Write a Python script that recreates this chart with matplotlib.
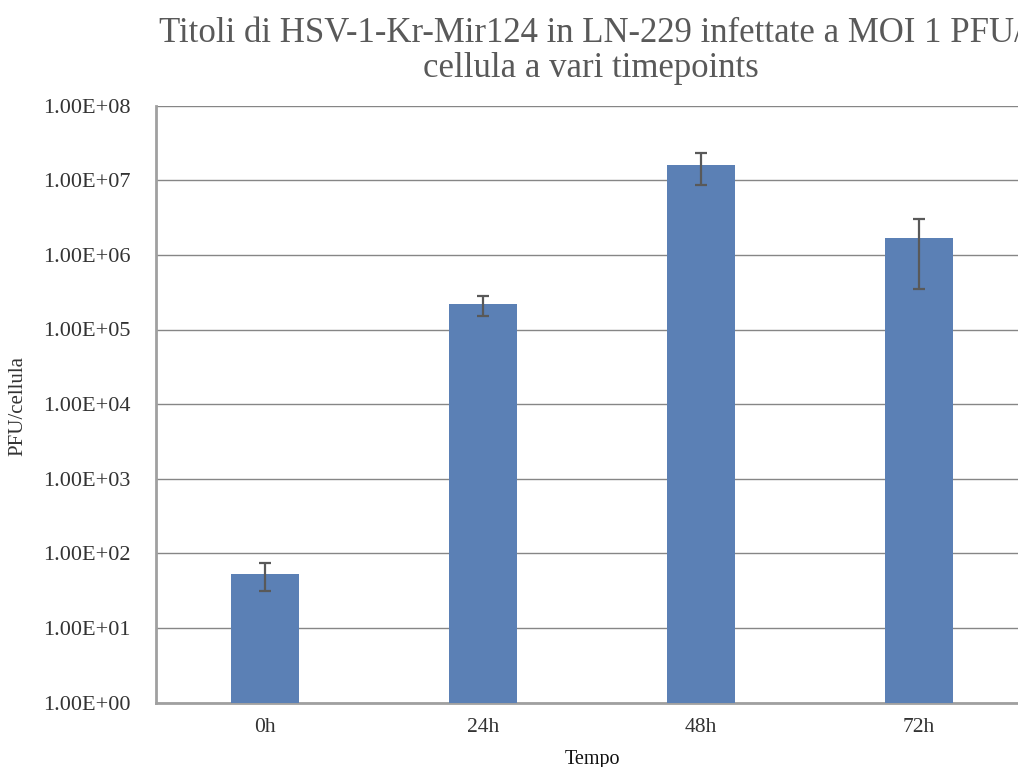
import numpy as np
import matplotlib
matplotlib.use("Agg")
import matplotlib.pyplot as plt
from matplotlib.ticker import FuncFormatter, NullLocator, FixedLocator

# dati
tempi = ["0h", "24h", "48h", "72h"]
titoli = [52, 2.17e5, 1.6e7, 1.67e6]
errori = [21, 6.4e4, 7.4e6, 1.32e6]

plt.rcParams['font.family'] = ['Liberation Serif', 'DejaVu Serif']

fig = plt.figure(figsize=(10.18, 7.67), dpi=100)
ax = fig.add_axes([156 / 1018, 64.5 / 767, 872 / 1018, 596.8 / 767])

x = np.arange(len(tempi))
ax.bar(x, titoli, width=0.315, color='#5b80b5', zorder=3,
       yerr=errori, error_kw=dict(ecolor='#595959', elinewidth=1.6,
                                   capsize=4.6, capthick=1.6, zorder=4))

ax.set_yscale('log')
ax.set_ylim(1, 1e8)
ax.set_xlim(-0.5, 3.5)
ax.yaxis.set_major_locator(FixedLocator([10.0 ** k for k in range(9)]))
ax.yaxis.set_minor_locator(NullLocator())
ax.yaxis.set_major_formatter(FuncFormatter(lambda v, p: "%.2E" % v))
ax.set_xticks(x)
ax.set_xticklabels(tempi)

ax.grid(axis='y', color='#868686', linewidth=1, zorder=0)
for s in ['top', 'right']:
    ax.spines[s].set_visible(False)
for s in ['left', 'bottom']:
    ax.spines[s].set_color('#a0a0a0')
    ax.spines[s].set_linewidth(2)
ax.tick_params(length=0, colors='#333333')
ax.tick_params(axis='y', labelsize=16, pad=18.5)
ax.tick_params(axis='x', labelsize=15.5, pad=11)

ax.set_xlabel("Tempo", fontsize=14.5, color='#111111')
ax.set_ylabel("PFU/cellula", fontsize=15, color='#333333')
ax.xaxis.set_label_coords(0.5, (702.5 - 750) / 596.8)
ax.yaxis.set_label_coords((27 - 156) / 872, 0.497)

fig.text(591 / 1018, 1 - 51 / 767,
         "Titoli di HSV-1-Kr-Mir124 in LN-229 infettate a MOI 1 PFU/\ncellula a vari timepoints",
         ha='center', va='center', fontsize=25, color='#595959', linespacing=1.1)

fig.savefig("out.png", dpi=100)
